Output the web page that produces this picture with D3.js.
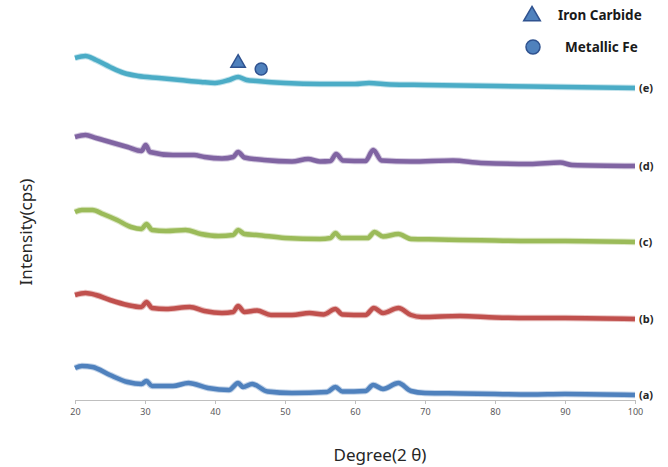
<!DOCTYPE html>
<html>
<head>
<meta charset="utf-8">
<script src="https://cdn.jsdelivr.net/npm/d3@7"></script>
<style>
  body { margin: 0; background: #ffffff; }
  svg { display: block; }
</style>
</head>
<body>
<div id="graph"></div>
<script>
// XRD patterns, intensity in arbitrary cps (stacked with offsets)
var seriesNames = ["(a)", "(b)", "(c)", "(d)", "(e)"];
var seriesColors = ["#4f81bd", "#c0504d", "#9bbb59", "#8064a2", "#4bacc6"];

var patternA = [[20,32],[21,34],[22.5,33],[25,25],[27.5,18],[29.5,16],[30.2,19],[31,14],[34,14],[36.2,17],[39,12],[42,10],[43.3,17],[44,13],[45.3,16],[47.5,8.5],[51,7],[56,8],[57.2,13],[58.2,8.5],[61.5,9],[62.6,15],[64,11],[66.2,17],[68,9],[70,7],[75,6.5],[80,6],[85,5.5],[90,6],[100,5]];
var patternB = [[20,105],[21.5,107],[23,105],[25,100],[27.5,95],[29.5,93],[30.2,98],[31,92],[33,91],[36.4,93],[38.5,89],[41,87],[42.6,88],[43.3,94],[44.2,88],[46,89.5],[48,85],[51,85],[53.5,87],[55.5,85.5],[57.2,91],[58.2,85.5],[61.5,85],[62.7,92],[64,87],[66.2,92],[68,85],[69.5,83],[75,84],[80,82.5],[85,82],[90,82],[100,81]];
var patternC = [[20,188],[21,190],[22.5,190],[24,186],[26,180],[28,173],[29.5,171],[30.2,176],[31,170],[33,169],[35.8,170],[38,166],[40.5,164],[42.6,165],[43.3,170],[44.2,166],[46,165],[50,162],[55,161],[56.5,162],[57.2,167],[58,162],[61.8,162],[62.8,168],[64,163.5],[66.2,166],[68,161],[72,160.5],[75,160],[80,159.5],[85,159],[90,159],[100,158]];
var patternD = [[20,263],[21.5,265],[23,262],[24,260],[27.5,253],[29.5,249],[30.1,255],[30.7,248],[34,245],[37,245],[38.5,243],[41,241.5],[42.6,243],[43.3,248],[44.2,242.5],[47,240],[51,238.5],[53.3,241],[55,238.5],[56.5,239],[57.3,246],[58.3,239.5],[61.5,239],[62.6,250],[63.8,239.5],[68,238.5],[74,239.5],[78,237],[85,236],[89.3,237.5],[91,235],[100,234]];
var patternE = [[20,342],[21.5,344],[23,340],[25,333],[27,327],[29,324],[32,322],[35,320],[38,318],[40,317],[42,320],[43.3,323],[44.5,320],[46,319],[50,317],[55,316],[60,316],[62,317],[65,315.5],[70,315],[80,314],[90,313],[100,312]];
var patterns = [patternA, patternB, patternC, patternD, patternE];

var xTicks = [20, 30, 40, 50, 60, 70, 80, 90, 100];

// phase markers: [2theta, intensity]
var ironCarbide = [[43.3, 337]];
var metallicFe = [[46.6, 331]];

var width = 668, height = 467;

var svg = d3.select('#graph').append('svg')
    .attr('width', width)
    .attr('height', height)
    .style('background', '#ffffff');

var x = d3.scaleLinear().domain([20, 100]).range([75, 635]);
var y = d3.scaleLinear().domain([0, 345]).range([400, 55]);

// x axis
var xAxis = svg.append("g")
    .attr("transform", "translate(0,400)")
    .call(d3.axisBottom(x).tickValues(xTicks).tickSize(4).tickPadding(5));
xAxis.select(".domain").attr("stroke", "#bfbfbf");
xAxis.selectAll(".tick line").attr("stroke", "#bfbfbf");
xAxis.selectAll(".tick text")
    .style("font-family", "'Noto Sans', sans-serif")
    .style("font-size", "9px")
    .style("fill", "#595959");

// curves
var line = d3.line()
    .x(function(d){ return x(d[0]) })
    .y(function(d){ return y(d[1]) })
    .curve(d3.curveMonotoneX);

// soft halo so the traces look a bit fuzzy like the scan
svg.selectAll(".halo")
    .data(patterns)
    .enter()
    .append("path")
      .attr("class", "halo")
      .attr("d", line)
      .attr("fill", "none")
      .attr("stroke", function(d, i){ return seriesColors[i] })
      .attr("stroke-opacity", 0.35)
      .attr("stroke-width", 6.5)
      .attr("stroke-linejoin", "round");

svg.selectAll(".pattern")
    .data(patterns)
    .enter()
    .append("path")
      .attr("class", "pattern")
      .attr("d", line)
      .attr("fill", "none")
      .attr("stroke", function(d, i){ return seriesColors[i] })
      .attr("stroke-width", 4.5)
      .attr("stroke-linejoin", "round")
      .attr("stroke-linecap", "butt");

// series labels at right end
svg.selectAll(".plabel")
    .data(patterns)
    .enter()
    .append("text")
      .attr("class", "plabel")
      .attr("x", x(100) + 4)
      .attr("y", function(d){ return y(d[d.length - 1][1]) + 4 })
      .style("font-family", "'Noto Sans', sans-serif")
      .style("font-size", "11px")
      .style("font-weight", "bold")
      .style("fill", "#262626")
      .text(function(d, i){ return seriesNames[i] });

var markFill = "#4f81bd", markStroke = "#2f528f";
var tri = d3.symbol().type(d3.symbolTriangle);

// markers on curve (e)
svg.selectAll(".mtri")
    .data(ironCarbide)
    .enter()
    .append("path")
      .attr("d", tri.size(90))
      .attr("transform", function(d){ return "translate(" + x(d[0]) + "," + y(d[1]) + ")" })
      .attr("fill", markFill)
      .attr("stroke", markStroke)
      .attr("stroke-width", 1.5);

svg.selectAll(".mcirc")
    .data(metallicFe)
    .enter()
    .append("circle")
      .attr("cx", function(d){ return x(d[0]) })
      .attr("cy", function(d){ return y(d[1]) })
      .attr("r", 6)
      .attr("fill", markFill)
      .attr("stroke", markStroke)
      .attr("stroke-width", 1.5);

// legend
var legend = svg.append("g");
legend.append("path")
    .attr("d", tri.size(120))
    .attr("transform", "translate(532,16)")
    .attr("fill", markFill)
    .attr("stroke", markStroke)
    .attr("stroke-width", 1.5);
legend.append("circle")
    .attr("cx", 533)
    .attr("cy", 47)
    .attr("r", 7)
    .attr("fill", markFill)
    .attr("stroke", markStroke)
    .attr("stroke-width", 1.5);
legend.append("text")
    .attr("x", 558)
    .attr("y", 20)
    .style("font-family", "'Noto Sans', sans-serif")
    .style("font-size", "13.5px")
    .style("font-weight", "bold")
    .style("fill", "#1a1a1a")
    .text("Iron Carbide");
legend.append("text")
    .attr("x", 565)
    .attr("y", 52)
    .style("font-family", "'Noto Sans', sans-serif")
    .style("font-size", "13.5px")
    .style("font-weight", "bold")
    .style("fill", "#1a1a1a")
    .text("Metallic  Fe");

// axis titles
svg.append("text")
    .attr("x", 380)
    .attr("y", 461)
    .attr("text-anchor", "middle")
    .style("font-family", "'Noto Sans', sans-serif")
    .style("font-size", "17px")
    .style("fill", "#262626")
    .text("Degree(2 θ)");

svg.append("text")
    .attr("transform", "translate(32,232) rotate(-90)")
    .attr("text-anchor", "middle")
    .style("font-family", "'Noto Sans', sans-serif")
    .style("font-size", "17px")
    .style("fill", "#262626")
    .text("Intensity(cps)");
</script>
</body>
</html>
